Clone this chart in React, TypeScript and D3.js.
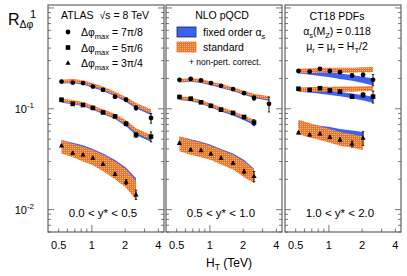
import React from "react";
import * as d3 from "d3";

// H_T bin centres (TeV)
const htBins = [0.53, 0.67, 0.83, 1.02, 1.26, 1.62, 2.04, 2.51, 3.43];
const xTickValues = [0.5, 1, 2, 4];
const xTickLabels = ["0.5", "1", "2", "4"];
const rapidityLabels = ["0.0 < y* < 0.5", "0.5 < y* < 1.0", "1.0 < y* < 2.0"];
const dphiLabels = ["7π/8", "5π/6", "3π/4"];

// panel 1: 0.0 < y* < 0.5
const p1Data = [
    [0.186, 0.182, 0.180, 0.166, 0.154, 0.132, 0.123, 0.102, 0.081],
    [0.123, 0.112, 0.109, 0.102, 0.092, 0.084, 0.071, 0.055, 0.053],
    [0.043, 0.0364, 0.035, 0.0325, 0.0283, 0.0225, 0.0188, 0.0141],
];
const p1Err = [
    [0.003, 0.003, 0.003, 0.003, 0.003, 0.004, 0.004, 0.005, 0.009],
    [0.002, 0.002, 0.002, 0.002, 0.002, 0.002, 0.003, 0.003, 0.006],
    [0.0008, 0.0008, 0.0008, 0.0008, 0.0008, 0.0008, 0.001, 0.0015],
];
const p1StdLo = [
    [0.180, 0.182, 0.178, 0.166, 0.154, 0.137, 0.121, 0.105, 0.090],
    [0.117, 0.113, 0.108, 0.100, 0.091, 0.081, 0.070, 0.058, 0.049],
    [0.036, 0.033, 0.030, 0.0275, 0.024, 0.020, 0.0165, 0.0125],
];
const p1StdHi = [
    [0.194, 0.197, 0.192, 0.179, 0.166, 0.148, 0.131, 0.114, 0.099],
    [0.126, 0.122, 0.117, 0.108, 0.099, 0.089, 0.077, 0.064, 0.055],
    [0.049, 0.045, 0.042, 0.039, 0.035, 0.030, 0.025, 0.0195],
];
const p1FixLo = [
    [0.178, 0.179, 0.174, 0.162, 0.150, 0.133, 0.117, 0.101, 0.087],
    [0.115, 0.111, 0.106, 0.098, 0.089, 0.079, 0.067, 0.055, 0.047],
    [0.044, 0.041, 0.038, 0.035, 0.031, 0.027, 0.022, 0.017],
];
const p1FixHi = [
    [0.188, 0.190, 0.185, 0.172, 0.160, 0.142, 0.125, 0.109, 0.094],
    [0.122, 0.118, 0.113, 0.105, 0.096, 0.086, 0.074, 0.061, 0.052],
    [0.049, 0.046, 0.0435, 0.040, 0.036, 0.031, 0.026, 0.0205],
];

// panel 2: 0.5 < y* < 1.0
const p2Data = [
    [0.194, 0.198, 0.191, 0.180, 0.169, 0.157, 0.143, 0.128, 0.112],
    [0.131, 0.126, 0.116, 0.107, 0.098, 0.091, 0.083, 0.073],
    [0.0457, 0.0393, 0.0387, 0.0358, 0.0325, 0.029, 0.0239, 0.0214],
];
const p2Err = [
    [0.003, 0.003, 0.003, 0.003, 0.003, 0.003, 0.004, 0.006, 0.019],
    [0.002, 0.002, 0.002, 0.002, 0.002, 0.002, 0.003, 0.005],
    [0.001, 0.001, 0.001, 0.001, 0.001, 0.001, 0.0012, 0.0025],
];
const p2StdLo = [
    [0.184, 0.188, 0.183, 0.175, 0.164, 0.152, 0.141, 0.131, 0.123],
    [0.124, 0.121, 0.114, 0.105, 0.096, 0.089, 0.080, 0.072],
    [0.038, 0.035, 0.033, 0.031, 0.028, 0.025, 0.021, 0.0184],
];
const p2StdHi = [
    [0.198, 0.202, 0.197, 0.187, 0.176, 0.164, 0.151, 0.141, 0.133],
    [0.133, 0.130, 0.122, 0.113, 0.104, 0.095, 0.086, 0.078],
    [0.053, 0.049, 0.046, 0.043, 0.039, 0.035, 0.030, 0.025],
];
const p2FixLo = [
    [0.182, 0.185, 0.180, 0.171, 0.161, 0.149, 0.138, 0.128, 0.120],
    [0.122, 0.119, 0.112, 0.103, 0.094, 0.086, 0.077, 0.069],
    [0.047, 0.044, 0.041, 0.038, 0.035, 0.031, 0.026, 0.0215],
];
const p2FixHi = [
    [0.191, 0.195, 0.190, 0.181, 0.170, 0.158, 0.146, 0.136, 0.128],
    [0.129, 0.125, 0.118, 0.109, 0.100, 0.091, 0.082, 0.074],
    [0.053, 0.050, 0.047, 0.044, 0.040, 0.036, 0.031, 0.0255],
];

// panel 3: 1.0 < y* < 2.0
const p3Data = [
    [0.237, 0.234, 0.249, 0.237, 0.231, 0.214, 0.217, 0.194],
    [0.158, 0.154, 0.160, 0.152, 0.148, 0.132, 0.137, 0.132],
    [0.058, 0.0553, 0.0566, 0.0524, 0.0493, 0.045, 0.0513],
];
const p3Err = [
    [0.004, 0.004, 0.004, 0.004, 0.005, 0.006, 0.009, 0.025],
    [0.003, 0.003, 0.003, 0.003, 0.004, 0.005, 0.007, 0.018],
    [0.0015, 0.0015, 0.0015, 0.0018, 0.002, 0.003, 0.008],
];
const p3StdLo = [
    [0.225, 0.225, 0.228, 0.228, 0.228, 0.228, 0.230, 0.232],
    [0.147, 0.147, 0.148, 0.148, 0.148, 0.148, 0.149, 0.150],
    [0.056, 0.052, 0.049, 0.046, 0.043, 0.041, 0.039],
];
const p3StdHi = [
    [0.250, 0.252, 0.255, 0.255, 0.255, 0.256, 0.258, 0.260],
    [0.163, 0.164, 0.165, 0.165, 0.166, 0.166, 0.167, 0.168],
    [0.078, 0.072, 0.067, 0.063, 0.059, 0.056, 0.053],
];
const p3FixLo = [
    [0.225, 0.218, 0.212, 0.206, 0.198, 0.190, 0.180, 0.170],
    [0.148, 0.145, 0.141, 0.137, 0.133, 0.127, 0.121, 0.115],
    [0.064, 0.061, 0.058, 0.056, 0.053, 0.051, 0.049],
];
const p3FixHi = [
    [0.245, 0.240, 0.236, 0.230, 0.224, 0.216, 0.208, 0.200],
    [0.162, 0.158, 0.155, 0.151, 0.147, 0.142, 0.137, 0.132],
    [0.075, 0.071, 0.068, 0.066, 0.063, 0.061, 0.059],
];

const panels = [
    { data: p1Data, err: p1Err, stdLo: p1StdLo, stdHi: p1StdHi, fixLo: p1FixLo, fixHi: p1FixHi },
    { data: p2Data, err: p2Err, stdLo: p2StdLo, stdHi: p2StdHi, fixLo: p2FixLo, fixHi: p2FixHi },
    { data: p3Data, err: p3Err, stdLo: p3StdLo, stdHi: p3StdHi, fixLo: p3FixLo, fixHi: p3FixHi },
];

const FONT = "'Liberation Sans', Arial, Helvetica, sans-serif";
const BLUE = "#3a62f5";
const ORANGE = "#f57326";
const FRAME = "#555";

const panelLeft = [48, 166, 285];
const panelW = 116;
const top = 5;
const bottom = 232;

const y = d3.scaleLog().domain([0.006, 1.07]).range([bottom, top]);

const Marker: React.FC<{ kind: number; cx: number; cy: number }> = ({ kind, cx, cy }) => {
    if (kind === 0) return <circle cx={cx} cy={cy} r={2.4} fill="#000" />;
    if (kind === 1) return <rect x={cx - 2.3} y={cy - 2.3} width={4.6} height={4.6} fill="#000" />;
    return <path d={`M${cx},${cy - 2.8}L${cx + 2.6},${cy + 1.8}L${cx - 2.6},${cy + 1.8}Z`} fill="#000" />;
};

const Panel: React.FC<{ idx: number }> = ({ idx }) => {
    const p = panels[idx];
    const x0 = panelLeft[idx];
    const x = d3.scaleLog().domain([0.4, 4.5]).range([x0, x0 + panelW]);

    const band = (lo: number[], hi: number[]) =>
        d3
            .area<number>()
            .x((_, i) => x(htBins[i]))
            .y0((_, i) => y(lo[i]))
            .y1((_, i) => y(hi[i]))(lo) || "";

    // log ticks on y
    const yTicks: { v: number; major: boolean }[] = [];
    for (let d = -3; d <= 0; d++) {
        for (let k = 1; k <= 9; k++) {
            const v = k * Math.pow(10, d);
            if (v >= 0.006 && v <= 1.07) yTicks.push({ v, major: k === 1 });
        }
    }
    const xTicks = [0.5, 0.6, 0.7, 0.8, 0.9, 1, 2, 3, 4];

    return (
        <g>
            {p.data.map((row, r) => (
                <g key={r}>
                    <path d={band(p.fixLo[r], p.fixHi[r])} fill={BLUE} />
                    <path d={band(p.stdLo[r], p.stdHi[r])} fill="url(#hatch)" />
                </g>
            ))}
            {p.data.map((row, r) =>
                row.map((v, i) => {
                    const cx = x(htBins[i]);
                    const e = p.err[r][i];
                    return (
                        <g key={`${r}-${i}`}>
                            <line x1={cx} x2={cx} y1={y(v - e)} y2={y(v + e)} stroke="#000" strokeWidth={0.9} />
                            <line x1={cx - 1.2} x2={cx + 1.2} y1={y(v - e)} y2={y(v - e)} stroke="#000" strokeWidth={0.8} />
                            <line x1={cx - 1.2} x2={cx + 1.2} y1={y(v + e)} y2={y(v + e)} stroke="#000" strokeWidth={0.8} />
                            <Marker kind={r} cx={cx} cy={y(v)} />
                        </g>
                    );
                })
            )}
            {yTicks.map((t, i) => (
                <g key={`yt${i}`} stroke={FRAME} strokeWidth={0.8}>
                    <line x1={x0} x2={x0 + (t.major ? 6 : 3)} y1={y(t.v)} y2={y(t.v)} />
                    <line x1={x0 + panelW} x2={x0 + panelW - (t.major ? 6 : 3)} y1={y(t.v)} y2={y(t.v)} />
                </g>
            ))}
            {xTicks.map((t, i) => (
                <line key={`xt${i}`} x1={x(t)} x2={x(t)} y1={bottom} y2={bottom - (t === 1 ? 7 : 3.5)} stroke={FRAME} strokeWidth={0.8} />
            ))}
            <rect x={x0} y={top} width={panelW} height={bottom - top} fill="none" stroke={FRAME} strokeWidth={1.1} />
            {xTickValues.map((t, i) => (
                <text key={`xl${i}`} x={x(t)} y={249} textAnchor="middle" fontSize={11}>
                    {xTickLabels[i]}
                </text>
            ))}
            <text x={x0 + panelW / 2 - 3} y={217} textAnchor="middle" fontSize={11.5}>
                {rapidityLabels[idx]}
            </text>
        </g>
    );
};

const App: React.FC = () => {
    return (
        <svg
            width={407}
            height={276}
            style={{ position: "absolute", left: 0, top: 0, background: "#fff" }}
            fontFamily={FONT}
        >
            <defs>
                <pattern id="hatch" width={2} height={2} patternUnits="userSpaceOnUse">
                    <rect width={2} height={2} fill={ORANGE} />
                    <rect x={0} y={0} width={1} height={1} fill="#fbb47e" />
                </pattern>
            </defs>
            <rect width={407} height={276} fill="#fff" />
            {[0, 1, 2].map(i => (
                <Panel key={i} idx={i} />
            ))}

            {/* y axis labels */}
            <text x={8} y={25} fontSize={16}>
                R
                <tspan fontSize={10.5} dy={3}>Δφ</tspan>
            </text>
            <text x={36} y={18} textAnchor="end" fontSize={11}>1</text>
            {[0.1, 0.01].map((v, i) => (
                <text key={v} x={34} y={y(v) + 4} textAnchor="end" fontSize={11}>
                    10
                    <tspan fontSize={8} dy={-5}>{i === 0 ? "-1" : "-2"}</tspan>
                </text>
            ))}

            {/* panel 1 legend */}
            <text x={61} y={19} fontSize={10.5}>
                ATLAS
                <tspan dx={6}>√s = 8 TeV</tspan>
            </text>
            {dphiLabels.map((lab, i) => (
                <g key={lab}>
                    <Marker kind={i} cx={68} cy={32 + i * 15.5} />
                    <text x={81} y={36 + i * 15.5} fontSize={10.5}>
                        Δφ
                        <tspan fontSize={7.5} dy={3}>max</tspan>
                        <tspan dy={-3}> = {lab}</tspan>
                    </text>
                </g>
            ))}

            {/* panel 2 legend */}
            <text x={222} y={19} textAnchor="middle" fontSize={10.5}>NLO pQCD</text>
            <rect x={177} y={27} width={19} height={10} fill={BLUE} stroke="#223" strokeWidth={0.8} />
            <text x={203} y={36} fontSize={10.5}>
                fixed order α<tspan fontSize={7.5} dy={2.5}>s</tspan>
            </text>
            <rect x={177} y={42} width={19} height={10} fill="url(#hatch)" stroke={ORANGE} strokeWidth={0.8} />
            <text x={203} y={51} fontSize={10.5}>standard</text>
            <text x={189} y={65} fontSize={8.5}>+ non-pert. correct.</text>

            {/* panel 3 legend */}
            <text x={337} y={20} textAnchor="middle" fontSize={10.5}>CT18 PDFs</text>
            <text x={337} y={35} textAnchor="middle" fontSize={10.5}>
                α<tspan fontSize={7.5} dy={2.5}>s</tspan>
                <tspan dy={-2.5}>(M</tspan>
                <tspan fontSize={7.5} dy={2.5}>Z</tspan>
                <tspan dy={-2.5}>) = 0.118</tspan>
            </text>
            <text x={337} y={50} textAnchor="middle" fontSize={10.5}>
                μ<tspan fontSize={7.5} dy={2.5}>r</tspan>
                <tspan dy={-2.5}> = μ</tspan>
                <tspan fontSize={7.5} dy={2.5}>f</tspan>
                <tspan dy={-2.5}> = H</tspan>
                <tspan fontSize={7.5} dy={2.5}>T</tspan>
                <tspan dy={-2.5}>/2</tspan>
            </text>

            {/* x axis title */}
            <text x={229} y={267} textAnchor="middle" fontSize={12}>
                H<tspan fontSize={8.5} dy={2.5}>T</tspan>
                <tspan dy={-2.5}> (TeV)</tspan>
            </text>
        </svg>
    );
};

export default App;
